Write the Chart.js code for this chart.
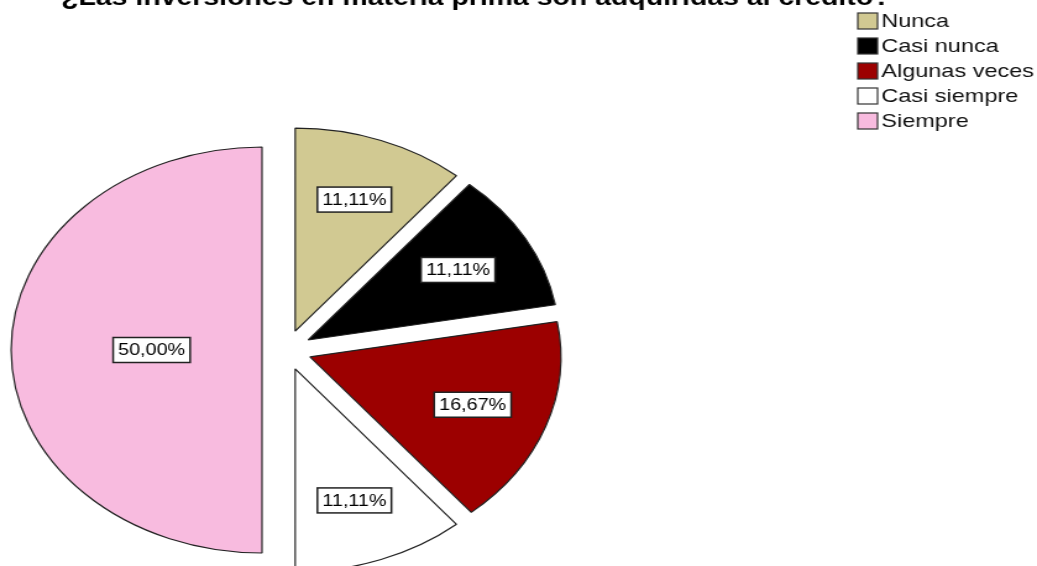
<!DOCTYPE html>
<html>
<head>
<meta charset="utf-8">
<title>Inversiones en materia prima</title>
<script src="https://cdn.jsdelivr.net/npm/chart.js@4.4.1/dist/chart.umd.min.js"></script>
<style>
  html, body { margin: 0; padding: 0; background: #fff; overflow: hidden; }
  /* the original export is stretched horizontally, so the canvas is too */
  #pie { width: 1037px !important; height: 566px !important; display: block; }
</style>
</head>
<body>
<canvas id="pie" width="839" height="566"></canvas>
<script>
// Data
const TITLE = "¿Las inversiones en materia prima son adquiridas al crédito?";
const categories = ["Nunca", "Casi nunca", "Algunas veces", "Casi siempre", "Siempre"];
const percentages = [11.11, 11.11, 16.67, 11.11, 50.0];
const sliceColors = ["#d1c992", "#000000", "#9c0000", "#ffffff", "#f8bbdf"];

const EXPLODE = 20; // px every slice is pulled out from the centre
const fmtPct = (v) => v.toFixed(2).replace(".", ",") + "%";

// Chart.js' own offset also grows and narrows the arcs; instead just move
// each arc's centre outward along its mid angle so the slices stay exact
const explodeSlices = {
  id: "explodeSlices",
  beforeDatasetsDraw(chart) {
    const area = chart.chartArea;
    const cx = (area.left + area.right) / 2;
    const cy = (area.top + area.bottom) / 2;
    chart.getDatasetMeta(0).data.forEach((arc) => {
      const mid = (arc.startAngle + arc.endAngle) / 2;
      arc.x = cx + Math.cos(mid) * EXPLODE;
      arc.y = cy + Math.sin(mid) * EXPLODE;
    });
  },
};

// Title, value boxes and legend, drawn after the pie
const spssExtras = {
  id: "spssExtras",
  afterDraw(chart) {
    const ctx = chart.ctx;
    ctx.save();

    // title (cut off at the top edge, as in the original)
    ctx.font = "bold 23px 'Liberation Sans', Arial, sans-serif";
    ctx.fillStyle = "#000";
    ctx.textAlign = "center";
    ctx.textBaseline = "alphabetic";
    ctx.fillText(TITLE, 385, 5);

    // value labels in white boxes
    const meta = chart.getDatasetMeta(0);
    const r = meta.controller.outerRadius;
    ctx.font = "16px 'Liberation Sans', Arial, sans-serif";
    ctx.textAlign = "center";
    ctx.textBaseline = "middle";
    meta.data.forEach((arc, i) => {
      const mid = (arc.startAngle + arc.endAngle) / 2;
      const f = percentages[i] >= 50 ? 0.44 : 0.69;
      const lx = arc.x + Math.cos(mid) * r * f;
      const ly = arc.y + Math.sin(mid) * r * f;
      const txt = fmtPct(percentages[i]);
      const w = ctx.measureText(txt).width + 8;
      const h = 25;
      ctx.fillStyle = "#fff";
      ctx.fillRect(lx - w / 2, ly - h / 2, w, h);
      ctx.strokeStyle = "#222";
      ctx.lineWidth = 1.5;
      ctx.strokeRect(lx - w / 2, ly - h / 2, w, h);
      ctx.fillStyle = "#000";
      ctx.fillText(txt, lx, ly + 1);
    });

    // legend
    ctx.font = "19px 'Liberation Sans', Arial, sans-serif";
    ctx.textAlign = "left";
    ctx.textBaseline = "middle";
    categories.forEach((name, i) => {
      const y = 21 + i * 25;
      ctx.fillStyle = sliceColors[i];
      ctx.fillRect(694, y - 8, 16, 16);
      ctx.strokeStyle = "#333";
      ctx.lineWidth = 1.2;
      ctx.strokeRect(694, y - 8, 16, 16);
      ctx.fillStyle = "#111";
      ctx.fillText(name, 713, y + 1);
    });

    ctx.restore();
  },
};

const chart = new Chart(document.getElementById("pie"), {
  type: "pie",
  data: {
    labels: categories,
    datasets: [
      {
        data: percentages,
        backgroundColor: sliceColors,
        borderColor: "#222",
        borderWidth: 1.2,
        hoverOffset: 0,
      },
    ],
  },
  options: {
    responsive: false,
    animation: false,
    radius: 203,
    layout: {
      padding: { left: 0, right: 375, top: 134, bottom: 0 },
    },
    plugins: {
      legend: { display: false },
      tooltip: { enabled: false },
      title: { display: false },
    },
  },
  plugins: [explodeSlices, spssExtras],
});
</script>
</body>
</html>
